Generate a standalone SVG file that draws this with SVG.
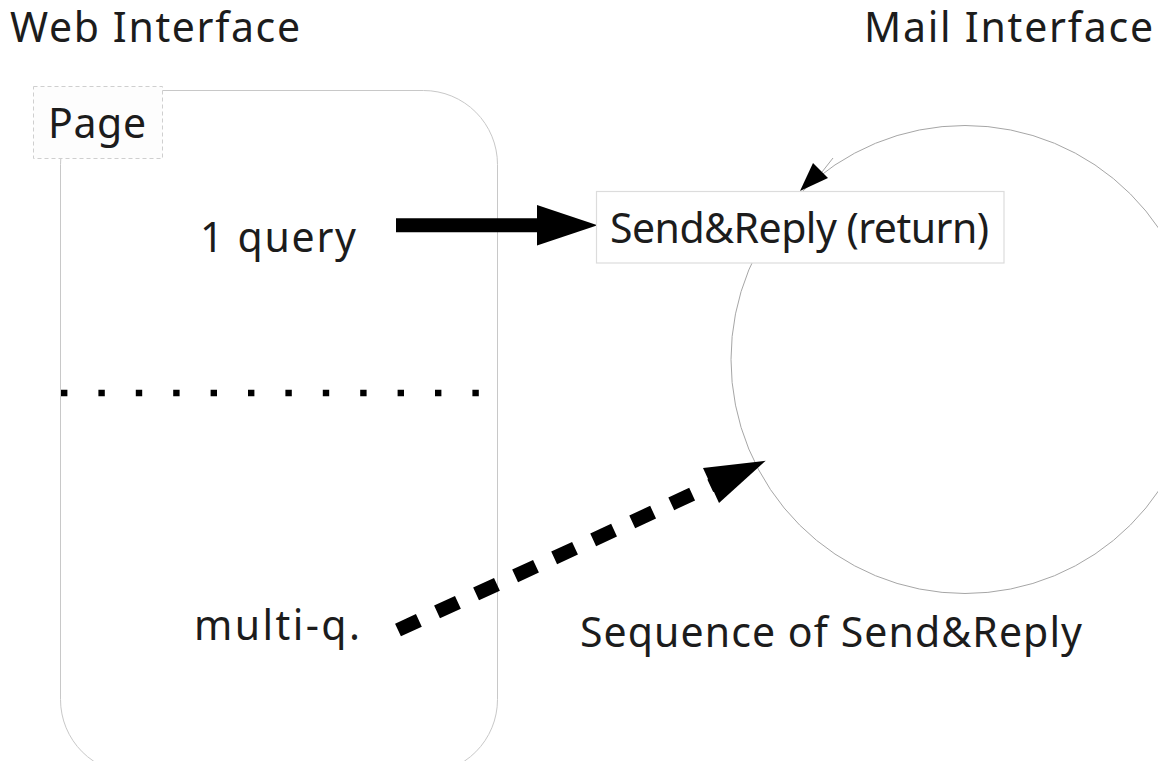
<svg xmlns="http://www.w3.org/2000/svg" width="1158" height="761" viewBox="0 0 1158 761">
  <style>
    text { font-family: "Noto Sans", "Liberation Sans", sans-serif; font-size: 41px; fill: #1c1c1c; }
    .frame { fill: #ffffff; stroke: #c8c8c8; stroke-width: 1; }
    .tag { fill: #fdfdfd; stroke: #cfcfcf; stroke-width: 1; stroke-dasharray: 4 3; }
    .box { fill: #ffffff; stroke: #dcdcdc; stroke-width: 1.2; }
    .loop { fill: none; stroke: #a6a6a6; stroke-width: 1; }
    .thick { stroke: #000000; stroke-width: 14; fill: none; }
    .head { fill: #000000; stroke: none; }
  </style>

  <!-- column titles -->
  <text id="title-web" x="10" y="42" textLength="290" lengthAdjust="spacing">Web Interface</text>
  <text id="title-mail" x="864" y="42" textLength="289" lengthAdjust="spacing">Mail Interface</text>

  <!-- web page frame -->
  <g id="page">
    <rect class="frame" x="60.5" y="90.5" width="437" height="683" rx="74" ry="74"/>
    <rect class="tag" x="33.5" y="86.5" width="129" height="72"/>
    <text x="48" y="138.3" textLength="98" lengthAdjust="spacing">Page</text>
  </g>

  <!-- separator between the two query modes -->
  <line id="separator" x1="61" y1="393" x2="481" y2="393" stroke="#000000" stroke-width="6.5" stroke-dasharray="6.4 31"/>

  <g id="one-query">
    <text x="200" y="252" textLength="156" lengthAdjust="spacing">1 query</text>
  </g>

  <g id="multi-query">
    <text x="194" y="640" textLength="166" lengthAdjust="spacing">multi-q.</text>
  </g>

  <!-- connectors -->
  <g id="connectors">
    <!-- self loop of the mail exchange -->
    <circle class="loop" cx="965" cy="359.5" r="234"/>
    <line x1="833" y1="158" x2="822" y2="172" stroke="#a6a6a6" stroke-width="1"/>
    <polygon class="head" points="800,191 813,163 828,178"/>

    <!-- single query -->
    <line class="thick" x1="396" y1="225.3" x2="538" y2="225.3"/>
    <polygon class="head" points="537,205 597.5,225.3 537,245.5"/>

    <!-- multiple queries -->
    <line class="thick" x1="398" y1="630" x2="713" y2="484.5" stroke-dasharray="23 20"/>
    <polygon class="head" points="765.7,460.7 703,468 719,503"/>
  </g>

  <g id="send-reply">
    <rect class="box" x="596.5" y="191.5" width="407.5" height="71.5"/>
    <text x="610" y="243.3" textLength="379" lengthAdjust="spacing">Send&amp;Reply (return)</text>
  </g>

  <g id="sequence-label">
    <text x="580" y="646.7" textLength="502" lengthAdjust="spacing">Sequence of Send&amp;Reply</text>
  </g>
</svg>
